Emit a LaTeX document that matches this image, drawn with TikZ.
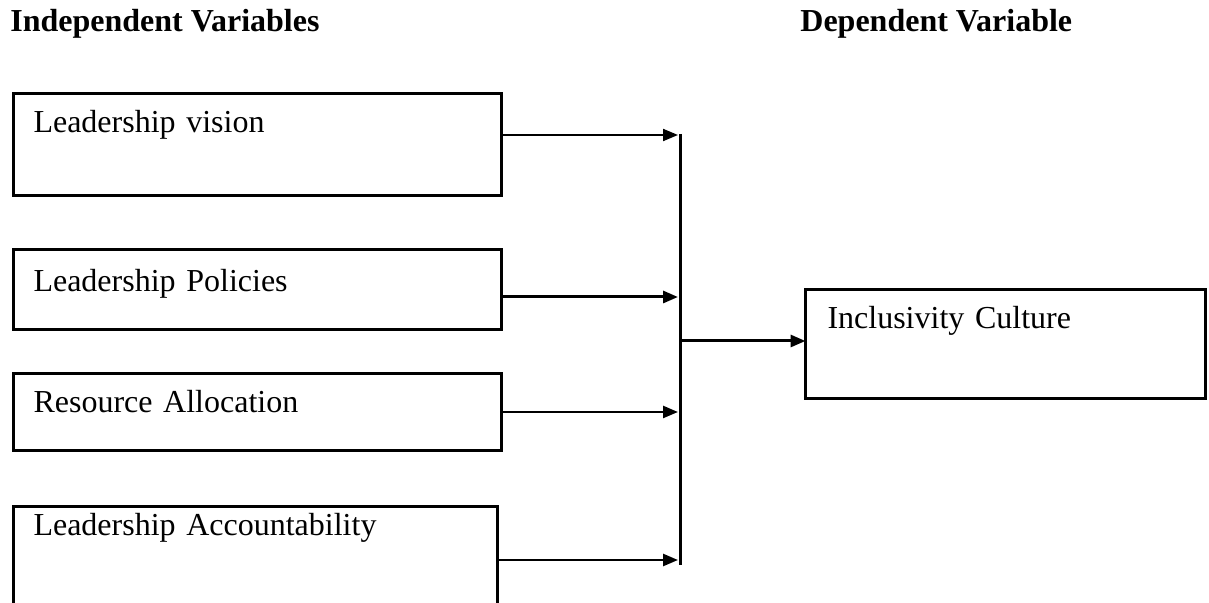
\documentclass[tikz,border=0pt]{standalone}
\usepackage{fontspec}
\setmainfont{Liberation Serif}
\usetikzlibrary{arrows.meta}

\begin{document}
\begin{tikzpicture}[x=0.5pt, y=-0.5pt,
      varbox/.style={draw, line width=1.5pt, outer sep=0pt, anchor=north west, align=left,
                     inner xsep=10pt, inner ysep=0pt, font=\fontsize{16}{19}\selectfont},
      head/.style={anchor=base west, inner sep=0pt, font=\fontsize{16}{19}\selectfont\bfseries},
      conn/.style={-{Triangle[length=7.5pt, width=6pt]}, line width=1pt},
      bus/.style={line width=1.5pt}]
    \useasboundingbox (0,0) rectangle (1209,603);
    \node[head] (iv) at (10,32) {Independent Variables};
    \node[head] (dv) at (800,32) {Dependent Variable};
    \node[varbox, text width=224pt, text height=19.75pt, text depth=31.25pt] (lv) at (13.5,93.5) {Leadership vision};
    \node[varbox, text width=224pt, text height=21.25pt, text depth=18.75pt] (lp) at (13.5,249.5) {Leadership Policies};
    \node[varbox, text width=224pt, text height=19.75pt, text depth=18.75pt] (ra) at (13.5,373.5) {Resource Allocation};
    \node[varbox, text width=222pt, text height=14.25pt, text depth=37.5pt] (la) at (13.5,506.5) {Leadership Accountability};
    \node[varbox, inner xsep=11pt, text width=177.75pt, text height=19.75pt, text depth=35pt] (ic) at (805.5,289.5) {Inclusivity Culture};
    \coordinate (bt) at (680,134);
    \coordinate (bb) at (680,565);
    \coordinate (b1) at (678,135);
    \coordinate (b2) at (678,297);
    \coordinate (b3) at (678,412);
    \coordinate (b4) at (678,560);
    \coordinate (bm) at (680,341);
    \draw[bus] (bt) -- (bb);
    \draw[conn] (lv.east |- b1) -- (b1);
    \draw[conn, line width=1.5pt] (lp.east |- b2) -- (b2);
    \draw[conn, line width=1.2pt] (ra.east |- b3) -- (b3);
    \draw[conn, line width=1.3pt] (la.east |- b4) -- (b4);
    \draw[conn, line width=1.5pt] (bm) -- (ic.west |- bm);
  \end{tikzpicture}
\end{document}
